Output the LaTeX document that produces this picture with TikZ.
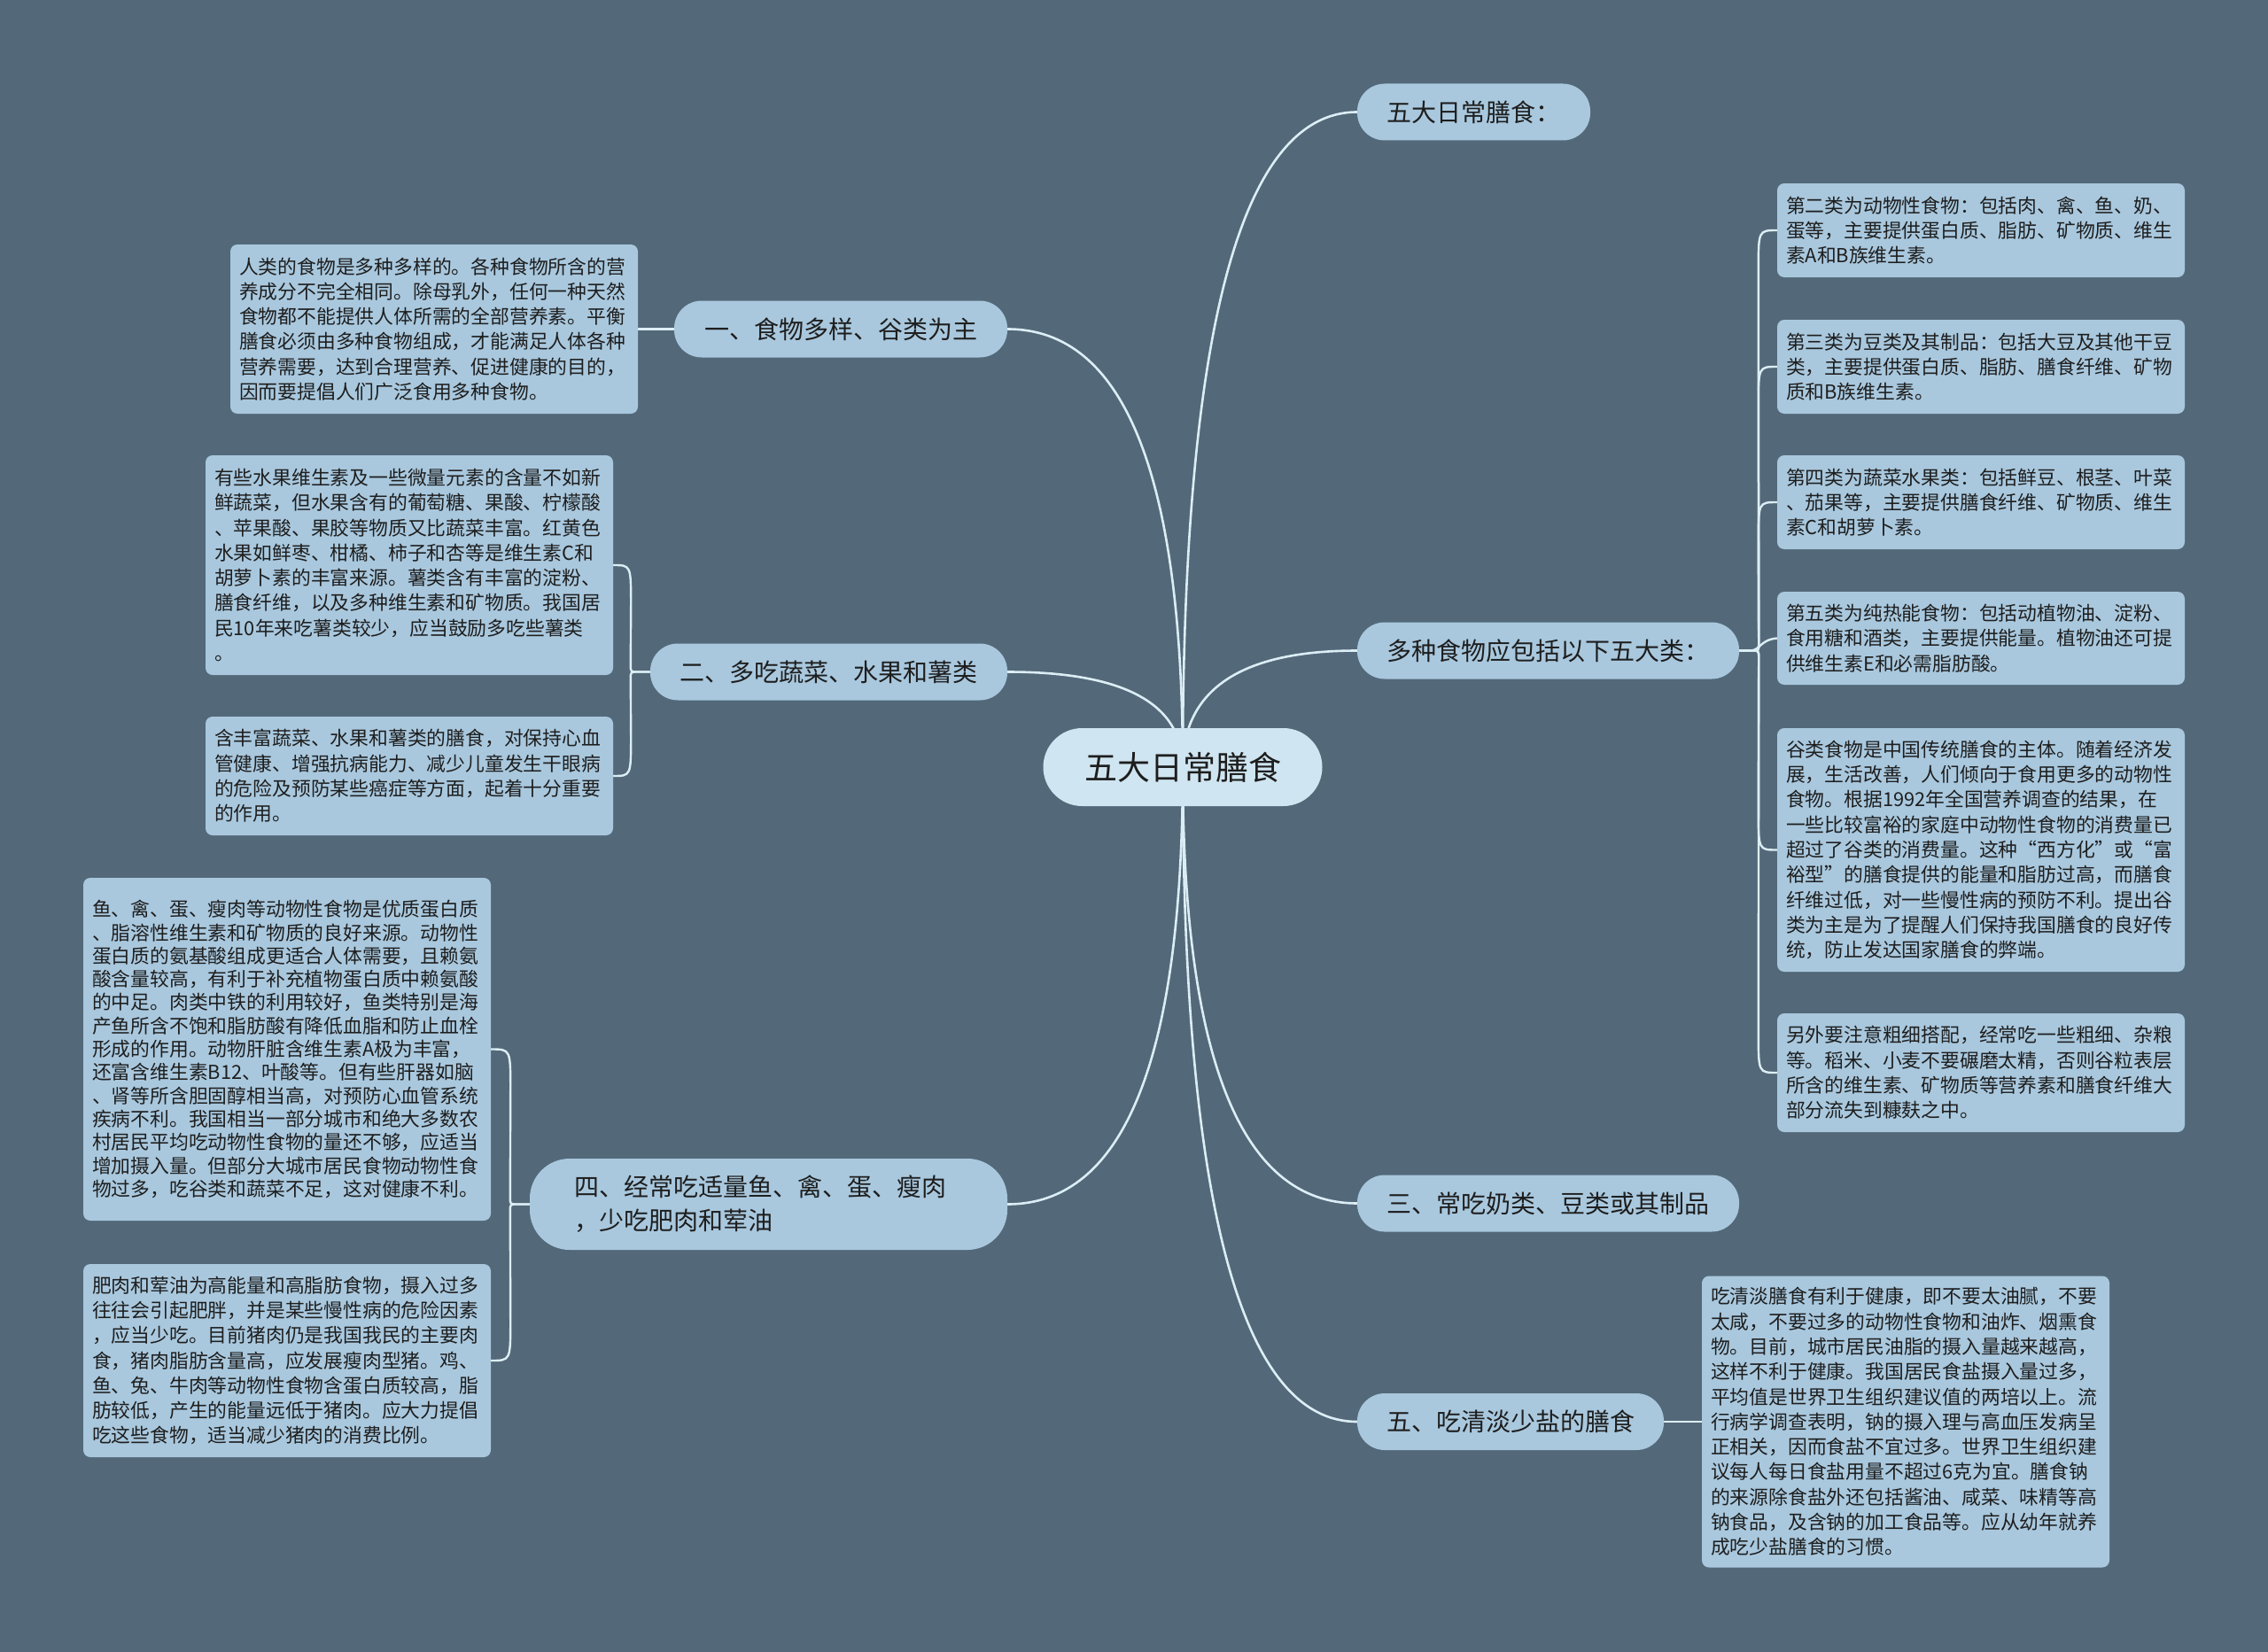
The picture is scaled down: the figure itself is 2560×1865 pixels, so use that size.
\documentclass[tikz,border=0pt]{standalone}
\usepackage{fontspec}
\setmainfont{Noto Sans CJK SC}
\usetikzlibrary{calc,backgrounds}
\definecolor{bgc}{HTML}{536979}
\definecolor{boxc}{HTML}{A9C8DE}
\definecolor{cenc}{HTML}{CFE5F1}
\definecolor{linec}{HTML}{DCEEF5}
\definecolor{txt}{HTML}{1E1E1E}
\tikzset{
  tbox/.style={fill=boxc, rounded corners=8pt, inner xsep=10pt, inner ysep=2pt,
    text width=440pt, align=left, text=txt, font=\fontsize{21.8}{28.3}\selectfont},
  bnode/.style={fill=boxc, rounded corners=31pt, inner sep=0pt, text=txt,
    minimum height=64pt, font=\fontsize{28}{36}\selectfont},
  cnode/.style={fill=cenc, rounded corners=44pt, inner sep=0pt, text=txt,
    minimum width=315pt, minimum height=88pt, font=\fontsize{37}{44}\selectfont},
  conn/.style={draw=linec, line width=2.6pt},
  bconn/.style={draw=linec, line width=2.4pt},
}
\begin{document}
\begin{tikzpicture}[x=1pt,y=-1pt]
\useasboundingbox (0,0) rectangle (2560,1865);

% central node
\node[cnode] (c) at (1335,866) {五大日常膳食};

% right branch nodes
\node[bnode, minimum width=263pt] (b0) at (1663.5,126.5) {五大日常膳食：};
\node[bnode, minimum width=431pt] (b1) at (1747.5,734.5) {多种食物应包括以下五大类：};
\node[bnode, minimum width=431pt] (b3) at (1747.5,1358.5) {三、常吃奶类、豆类或其制品};
\node[bnode, minimum width=346pt] (b5) at (1705,1605) {五、吃清淡少盐的膳食};

% left branch nodes
\node[bnode, minimum width=376pt] (L1) at (949,371.5) {一、食物多样、谷类为主};
\node[bnode, minimum width=403pt] (L2) at (935.5,758.5) {二、多吃蔬菜、水果和薯类};
\node[bnode, rounded corners=45pt, inner xsep=50pt, text width=439pt, align=left,
  minimum height=103pt, font=\fontsize{28}{38}\selectfont] (L4) at (867.5,1359.5)
  {四、经常吃适量鱼、禽、蛋、瘦肉\\，少吃肥肉和荤油};

% left text boxes
\node[tbox, minimum height=191pt] (bx1) at (490,371.5) {人类的食物是多种多样的。各种食物所含的营\\养成分不完全相同。除母乳外，任何一种天然\\食物都不能提供人体所需的全部营养素。平衡\\膳食必须由多种食物组成，才能满足人体各种\\营养需要，达到合理营养、促进健康的目的，\\因而要提倡人们广泛食用多种食物。};
\node[tbox, minimum height=248pt] (bx2) at (462,638) {有些水果维生素及一些微量元素的含量不如新\\鲜蔬菜，但水果含有的葡萄糖、果酸、柠檬酸\\、苹果酸、果胶等物质又比蔬菜丰富。红黄色\\水果如鲜枣、柑橘、柿子和杏等是维生素C和\\胡萝卜素的丰富来源。薯类含有丰富的淀粉、\\膳食纤维，以及多种维生素和矿物质。我国居\\民10年来吃薯类较少，应当鼓励多吃些薯类\\。};
\node[tbox, minimum height=134pt] (bx3) at (462,876) {含丰富蔬菜、水果和薯类的膳食，对保持心血\\管健康、增强抗病能力、减少儿童发生干眼病\\的危险及预防某些癌症等方面，起着十分重要\\的作用。};
\node[tbox, minimum height=387pt, font=\fontsize{21.8}{26.3}\selectfont] (bx4) at (324,1184.5) {鱼、禽、蛋、瘦肉等动物性食物是优质蛋白质\\、脂溶性维生素和矿物质的良好来源。动物性\\蛋白质的氨基酸组成更适合人体需要，且赖氨\\酸含量较高，有利于补充植物蛋白质中赖氨酸\\的中足。肉类中铁的利用较好，鱼类特别是海\\产鱼所含不饱和脂肪酸有降低血脂和防止血栓\\形成的作用。动物肝脏含维生素A极为丰富，\\还富含维生素B12、叶酸等。但有些肝器如脑\\、肾等所含胆固醇相当高，对预防心血管系统\\疾病不利。我国相当一部分城市和绝大多数农\\村居民平均吃动物性食物的量还不够，应适当\\增加摄入量。但部分大城市居民食物动物性食\\物过多，吃谷类和蔬菜不足，这对健康不利。};
\node[tbox, minimum height=218pt] (bx5) at (324,1536) {肥肉和荤油为高能量和高脂肪食物，摄入过多\\往往会引起肥胖，并是某些慢性病的危险因素\\，应当少吃。目前猪肉仍是我国我民的主要肉\\食，猪肉脂肪含量高，应发展瘦肉型猪。鸡、\\鱼、兔、牛肉等动物性食物含蛋白质较高，脂\\肪较低，产生的能量远低于猪肉。应大力提倡\\吃这些食物，适当减少猪肉的消费比例。};

% right text boxes
\node[tbox, minimum height=106pt] (r1) at (2236,260) {第二类为动物性食物：包括肉、禽、鱼、奶、\\蛋等，主要提供蛋白质、脂肪、矿物质、维生\\素A和B族维生素。};
\node[tbox, minimum height=106pt] (r2) at (2236,414) {第三类为豆类及其制品：包括大豆及其他干豆\\类，主要提供蛋白质、脂肪、膳食纤维、矿物\\质和B族维生素。};
\node[tbox, minimum height=106pt] (r3) at (2236,567) {第四类为蔬菜水果类：包括鲜豆、根茎、叶菜\\、茄果等，主要提供膳食纤维、矿物质、维生\\素C和胡萝卜素。};
\node[tbox, minimum height=105pt] (r4) at (2236,720.5) {第五类为纯热能食物：包括动植物油、淀粉、\\食用糖和酒类，主要提供能量。植物油还可提\\供维生素E和必需脂肪酸。};
\node[tbox, minimum height=275pt] (r5) at (2236,959.5) {谷类食物是中国传统膳食的主体。随着经济发\\展，生活改善，人们倾向于食用更多的动物性\\食物。根据1992年全国营养调查的结果，在\\一些比较富裕的家庭中动物性食物的消费量已\\超过了谷类的消费量。这种“西方化”或“富\\裕型”的膳食提供的能量和脂肪过高，而膳食\\纤维过低，对一些慢性病的预防不利。提出谷\\类为主是为了提醒人们保持我国膳食的良好传\\统，防止发达国家膳食的弊端。};
\node[tbox, minimum height=134pt] (r6) at (2236,1211) {另外要注意粗细搭配，经常吃一些粗细、杂粮\\等。稻米、小麦不要碾磨太精，否则谷粒表层\\所含的维生素、矿物质等营养素和膳食纤维大\\部分流失到糠麸之中。};
\node[tbox, minimum height=329pt] (r7) at (2151,1605) {吃清淡膳食有利于健康，即不要太油腻，不要\\太咸，不要过多的动物性食物和油炸、烟熏食\\物。目前，城市居民油脂的摄入量越来越高，\\这样不利于健康。我国居民食盐摄入量过多，\\平均值是世界卫生组织建议值的两培以上。流\\行病学调查表明，钠的摄入理与高血压发病呈\\正相关，因而食盐不宜过多。世界卫生组织建\\议每人每日食盐用量不超过6克为宜。膳食钠\\的来源除食盐外还包括酱油、咸菜、味精等高\\钠食品，及含钠的加工食品等。应从幼年就养\\成吃少盐膳食的习惯。};

\begin{pgfonlayer}{background}
\fill[bgc] (0,0) rectangle (2560,1865);
% corner points for the main curves
\coordinate (k0) at (c.center |- b0.west);
\coordinate (k1) at (c.center |- b1.west);
\coordinate (k3) at (c.center |- b3.west);
\coordinate (k5) at (c.center |- b5.west);
\coordinate (m1) at (c.center |- L1.east);
\coordinate (m2) at (c.center |- L2.east);
\coordinate (m4) at (c.center |- L4.east);
\draw[conn] (c.center) .. controls ($(c.center)!0.6667!(k0)$) and ($(b0.west)!0.6667!(k0)$) .. (b0.west);
\draw[conn] (c.center) .. controls ($(c.center)!0.6667!(k1)$) and ($(b1.west)!0.6667!(k1)$) .. (b1.west);
\draw[conn] (c.center) .. controls ($(c.center)!0.6667!(k3)$) and ($(b3.west)!0.6667!(k3)$) .. (b3.west);
\draw[conn] (c.center) .. controls ($(c.center)!0.6667!(k5)$) and ($(b5.west)!0.6667!(k5)$) .. (b5.west);
\draw[conn] (c.center) .. controls ($(c.center)!0.6667!(m1)$) and ($(L1.east)!0.6667!(m1)$) .. (L1.east);
\draw[conn] (c.center) .. controls ($(c.center)!0.6667!(m2)$) and ($(L2.east)!0.6667!(m2)$) .. (L2.east);
\draw[conn] (c.center) .. controls ($(c.center)!0.6667!(m4)$) and ($(L4.east)!0.6667!(m4)$) .. (L4.east);

% straight links
\draw[bconn] (L1.west) -- (bx1.east);
\draw[bconn] (b5.east) -- (r7.west);

% right bracket: trunk 22 right of parent, 21 left of the boxes
\draw[bconn] (b1.east) -- ($(b1.east)+(14,0)$) .. controls ($(b1.east)+(22,0)$) .. ($(b1.east)+(22,-8)$) -- ($(r1.west)+(-21,45)$) .. controls ($(r1.west)+(-21,0)$) .. (r1.west);
\draw[bconn] (b1.east) -- ($(b1.east)+(14,0)$) .. controls ($(b1.east)+(22,0)$) .. ($(b1.east)+(22,-8)$) -- ($(r2.west)+(-21,45)$) .. controls ($(r2.west)+(-21,0)$) .. (r2.west);
\draw[bconn] (b1.east) -- ($(b1.east)+(14,0)$) .. controls ($(b1.east)+(22,0)$) .. ($(b1.east)+(22,-8)$) -- ($(r3.west)+(-21,45)$) .. controls ($(r3.west)+(-21,0)$) .. (r3.west);
\draw[bconn] (b1.east) -- ($(b1.east)+(12,0)$) .. controls ($(b1.east)+(24,0)$) and ($(r4.west)+(-20,2)$) .. (r4.west);
\draw[bconn] (b1.east) -- ($(b1.east)+(14,0)$) .. controls ($(b1.east)+(22,0)$) .. ($(b1.east)+(22,8)$) -- ($(r5.west)+(-21,-45)$) .. controls ($(r5.west)+(-21,0)$) .. (r5.west);
\draw[bconn] (b1.east) -- ($(b1.east)+(14,0)$) .. controls ($(b1.east)+(22,0)$) .. ($(b1.east)+(22,8)$) -- ($(r6.west)+(-21,-45)$) .. controls ($(r6.west)+(-21,0)$) .. (r6.west);

% left bracket for L2
\draw[bconn] (L2.west) -- ($(L2.west)+(-14,0)$) .. controls ($(L2.west)+(-22,0)$) .. ($(L2.west)+(-22,-8)$) -- ($(bx2.east)+(20,45)$) .. controls ($(bx2.east)+(20,0)$) .. (bx2.east);
\draw[bconn] (L2.west) -- ($(L2.west)+(-14,0)$) .. controls ($(L2.west)+(-22,0)$) .. ($(L2.west)+(-22,8)$) -- ($(bx3.east)+(20,-45)$) .. controls ($(bx3.east)+(20,0)$) .. (bx3.east);

% left bracket for L4
\draw[bconn] (L4.west) -- ($(L4.west)+(-14,0)$) .. controls ($(L4.west)+(-22,0)$) .. ($(L4.west)+(-22,-8)$) -- ($(bx4.east)+(22,45)$) .. controls ($(bx4.east)+(22,0)$) .. (bx4.east);
\draw[bconn] (L4.west) -- ($(L4.west)+(-14,0)$) .. controls ($(L4.west)+(-22,0)$) .. ($(L4.west)+(-22,8)$) -- ($(bx5.east)+(22,-45)$) .. controls ($(bx5.east)+(22,0)$) .. (bx5.east);
\end{pgfonlayer}
\end{tikzpicture}
\end{document}
